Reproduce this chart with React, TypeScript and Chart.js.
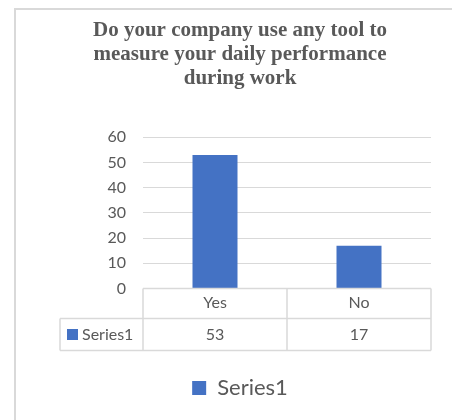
import React, { useEffect, useRef } from "react";
import { Chart, registerables } from "chart.js";

Chart.register(...registerables);

const TITLE_LINES = [
  "Do your company use any tool to",
  "measure your daily performance",
  "during work",
];
const CATEGORIES = ["Yes", "No"];
const SERIES_NAME = "Series1";
const SERIES_VALUES = [53, 17];
const Y_MIN = 0;
const Y_MAX = 60;
const Y_STEP = 10;

const BAR_COLOR = "#4472C4";
const TEXT_COLOR = "#595959";
const LINE_COLOR = "#D9D9D9";
const SANS = "Lato, 'Noto Sans', 'Liberation Sans', sans-serif";
const SERIF = "'Liberation Serif', 'Times New Roman', serif";

const framePlugin = {
  id: "frame",
  beforeDraw(chart: any) {
    const ctx = chart.ctx;
    ctx.save();
    ctx.fillStyle = "#ffffff";
    ctx.fillRect(0, 0, chart.width, chart.height);
    ctx.strokeStyle = LINE_COLOR;
    ctx.lineWidth = 2;
    ctx.beginPath();
    ctx.moveTo(15, chart.height + 10);
    ctx.lineTo(15, 9);
    ctx.lineTo(452, 9);
    ctx.stroke();
    ctx.restore();
  },
};

const dataTablePlugin = {
  id: "dataTable",
  afterDraw(chart: any) {
    const { ctx, chartArea } = chart;
    const xs = chart.scales.x;
    const top = chartArea.bottom;
    const r1 = top + 30;
    const r2 = top + 62;
    const left = 60;
    ctx.save();
    ctx.strokeStyle = LINE_COLOR;
    ctx.lineWidth = 1.5;
    ctx.beginPath();
    ctx.moveTo(chartArea.left, top);
    ctx.lineTo(chartArea.right, top);
    ctx.moveTo(left, r1);
    ctx.lineTo(chartArea.right, r1);
    ctx.moveTo(left, r2);
    ctx.lineTo(chartArea.right, r2);
    ctx.moveTo(left, r1);
    ctx.lineTo(left, r2);
    ctx.moveTo(chartArea.left, top);
    ctx.lineTo(chartArea.left, r2);
    for (let i = 1; i < CATEGORIES.length; i++) {
      const b = (xs.getPixelForValue(i - 1) + xs.getPixelForValue(i)) / 2;
      ctx.moveTo(b, top);
      ctx.lineTo(b, r2);
    }
    ctx.moveTo(chartArea.right, top);
    ctx.lineTo(chartArea.right, r2);
    ctx.stroke();

    const cy = (r1 + r2) / 2;
    ctx.fillStyle = BAR_COLOR;
    ctx.fillRect(67, cy - 5.5, 11, 11);
    ctx.font = `16px ${SANS}`;
    ctx.fillStyle = TEXT_COLOR;
    ctx.textBaseline = "middle";
    ctx.textAlign = "left";
    ctx.fillText(SERIES_NAME, 82, cy);
    ctx.textAlign = "center";
    SERIES_VALUES.forEach((v, i) => {
      ctx.fillText(String(v), xs.getPixelForValue(i), cy);
    });
    ctx.restore();
  },
};

export default function App() {
  const ref = useRef<HTMLCanvasElement | null>(null);

  useEffect(() => {
    document.documentElement.style.overflow = "hidden";
    document.body.style.overflow = "hidden";
    document.body.style.margin = "0";
    if (!ref.current) return;
    const chart = new Chart(ref.current, {
      type: "bar",
      data: {
        labels: CATEGORIES,
        datasets: [
          {
            label: SERIES_NAME,
            data: SERIES_VALUES,
            backgroundColor: BAR_COLOR,
            borderWidth: 0,
            categoryPercentage: 1,
            barPercentage: 0.3125,
          },
        ],
      },
      options: {
        responsive: false,
        animation: false,
        devicePixelRatio: 1,
        layout: { padding: { left: 14, right: 14, top: 0, bottom: 11 } },
        scales: {
          x: {
            grid: { display: false, drawTicks: false },
            border: { display: false },
            ticks: {
              color: TEXT_COLOR,
              font: { family: SANS, size: 16 },
              padding: 4.5,
            },
            afterFit: (s: any) => {
              s.height = 72;
            },
          },
          y: {
            min: Y_MIN,
            max: Y_MAX,
            grid: { color: LINE_COLOR, lineWidth: 1, drawTicks: false },
            border: { display: false },
            ticks: {
              stepSize: Y_STEP,
              color: TEXT_COLOR,
              font: { family: SANS, size: 16 },
              padding: 17,
            },
            afterFit: (s: any) => {
              s.width = 129;
            },
          },
          y2: {
            type: "linear",
            position: "right",
            grid: { display: false, drawTicks: false, drawOnChartArea: false },
            border: { display: false },
            ticks: { display: false },
            afterFit: (s: any) => {
              s.width = 35;
            },
          },
        },
        plugins: {
          title: {
            display: true,
            text: TITLE_LINES,
            color: TEXT_COLOR,
            font: { family: SERIF, size: 21, weight: "bold", lineHeight: 1.12 },
            padding: { top: 19.3, bottom: 47.4 },
          },
          legend: {
            position: "bottom",
            labels: {
              boxWidth: 14,
              boxHeight: 14,
              padding: 16.5,
              color: TEXT_COLOR,
              font: { family: SANS, size: 22 },
            },
          },
          tooltip: { enabled: false },
        },
      },
      plugins: [framePlugin, dataTablePlugin],
    } as any);
    return () => chart.destroy();
  }, []);

  return (
    <div
      style={{
        position: "relative",
        width: 452,
        height: 420,
        overflow: "hidden",
        background: "#fff",
      }}
    >
      <canvas
        ref={ref}
        width={480}
        height={420}
        style={{ display: "block", width: 480, height: 420 }}
      />
    </div>
  );
}
